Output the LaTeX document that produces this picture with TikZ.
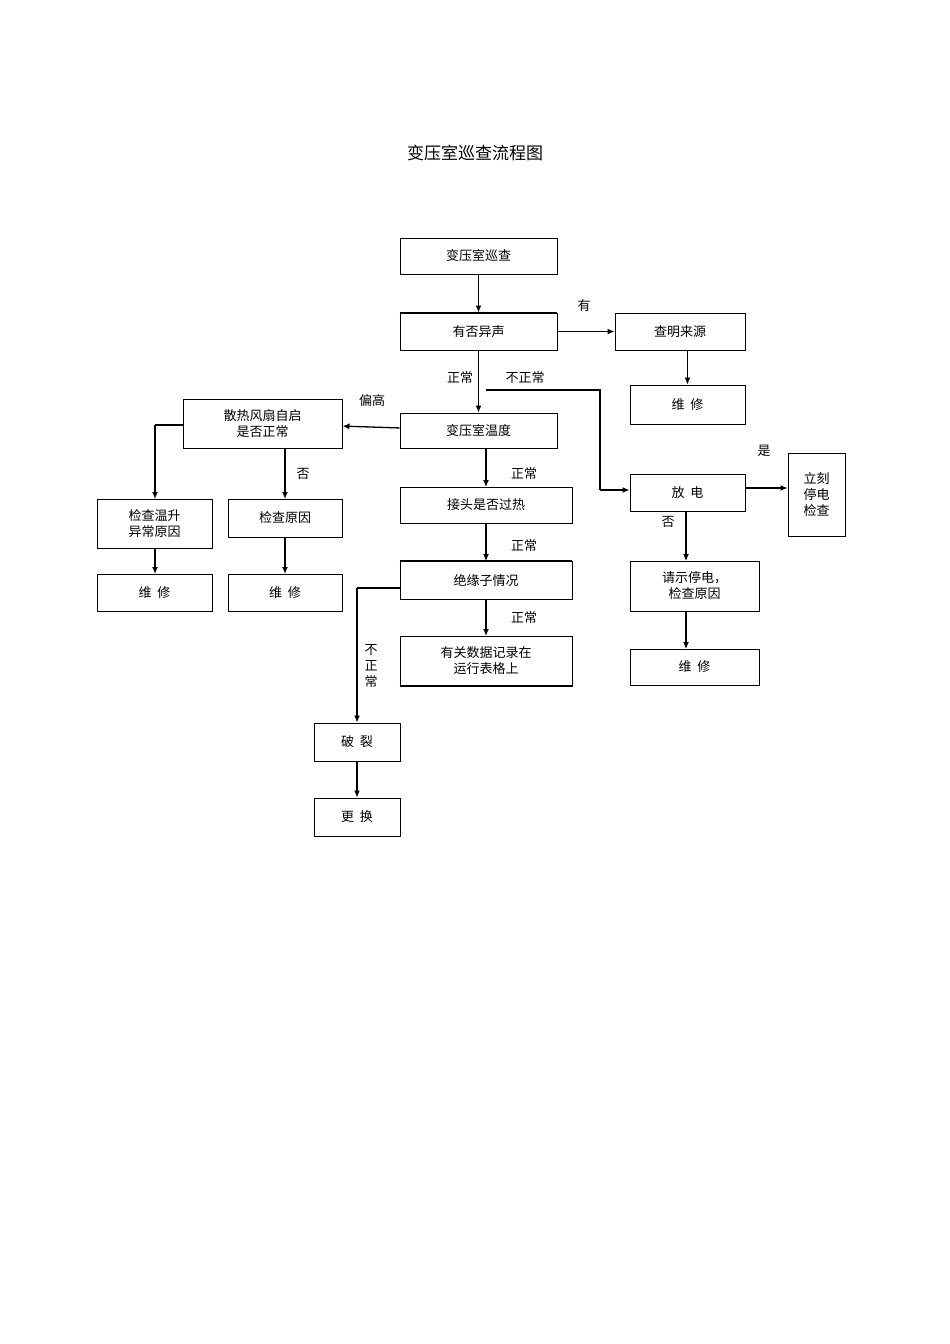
\documentclass[tikz,border=0pt]{standalone}
\usepackage{fontspec}
\setmainfont{Noto Sans CJK SC}
\usetikzlibrary{arrows.meta}
\begin{document}
\begin{tikzpicture}[x=1pt,y=-1pt,
  bx/.style={draw,line width=0.9pt,inner sep=0pt,font=\fontsize{13}{16}\selectfont,align=center},
  ar/.style={draw,line width=1.3pt,-{Latex[length=7pt,width=6pt]}},
  ln/.style={draw,line width=1.1pt},
  lb/.style={font=\fontsize{13}{16}\selectfont}]
\useasboundingbox (0,0) rectangle (950,1344);
\newcommand{\bxx}[6]{\node[bx,minimum width=#4-#2,minimum height=#5-#3] (#1) at ({(#2+#4)/2},{(#3+#5)/2}) {#6};}
\node[font=\fontsize{17}{20}\selectfont] (title) at (475,153) {变压室巡查流程图};
\bxx{b1}{400}{238}{557}{274}{变压室巡查}
\bxx{b2}{400}{313}{557}{350}{有否异声}
\bxx{b3}{615}{313}{745}{350}{查明来源}
\bxx{b4}{630}{385}{745}{424}{维\ \ 修}
\bxx{b5}{400}{413}{557}{448}{变压室温度}
\bxx{b6}{183}{399}{342}{448}{散热风扇自启\\是否正常}
\bxx{b7}{97}{499}{212}{548}{检查温升\\异常原因}
\bxx{b8}{228}{499}{342}{537}{检查原因}
\bxx{b9}{97}{574}{212}{611}{维\ \ 修}
\bxx{b10}{228}{574}{342}{611}{维\ \ 修}
\bxx{b11}{400}{487}{572}{523}{接头是否过热}
\bxx{b12}{400}{561}{572}{599}{绝缘子情况}
\bxx{b13}{400}{636}{572}{686}{有关数据记录在\\运行表格上}
\bxx{b14}{630}{474}{745}{511}{放\ \ 电}
\bxx{b15}{788}{453}{845}{536}{立刻\\停电\\检查}
\bxx{b16}{630}{561}{759}{611}{请示停电，\\检查原因}
\bxx{b17}{630}{649}{759}{685}{维\ \ 修}
\bxx{b18}{314}{723}{400}{761}{破\ \ 裂}
\bxx{b19}{314}{798}{400}{836}{更\ \ 换}
\draw[line width=2pt] (b2.north west)--(b2.north east);
\draw[line width=2pt] (b12.north west)--(b12.north east);
\draw[line width=2pt] (b13.south west)--(b13.south east);
\path[ar] (b1)--(b2);
\path[ar] (b2)--(b3);
\path[ar] (b3.south -| b4)--(b4);
\path[ar] (b2)--(b5);
\coordinate (j1) at (486,390);
\path[ln] (j1)--(600,390)--(600,490);
\path[ar] (600,490)--(b14.west |- 0,490);
\path[ar] (b5)--(b6);
\path[ln] (b6.west |- 0,425)--(155,425);
\path[ar] (155,425)--(155,499);
\path[ar] (285,448)--(285,499);
\path[ar] (155,548)--(155,574);
\path[ar] (285,537)--(285,574);
\path[ar] (486,448)--(486,487);
\path[ar] (486,523)--(486,561);
\path[ar] (486,599)--(486,636);
\path[ln] (b12.west |- 0,588)--(357,588);
\path[ar] (357,588)--(b18.north);
\path[ar] (b18)--(b19);
\path[ar] (b14.east |- 0,488)--(b15.west |- 0,488);
\path[ar] (686,511)--(686,561);
\path[ar] (686,611)--(686,649);
\node[lb] (l1) at (584,306) {有};
\node[lb] (l2) at (460,378) {正常};
\node[lb] (l3) at (525,378) {不正常};
\node[lb] (l4) at (372,401) {偏高};
\node[lb] (l5) at (303,474) {否};
\node[lb] (l6) at (524,474) {正常};
\node[lb] (l7) at (524,546) {正常};
\node[lb] (l8) at (524,618) {正常};
\node[lb,align=center] (l9) at (371,666) {不\\正\\常};
\node[lb] (l10) at (764,451) {是};
\node[lb] (l11) at (668,522) {否};
\end{tikzpicture}
\end{document}
